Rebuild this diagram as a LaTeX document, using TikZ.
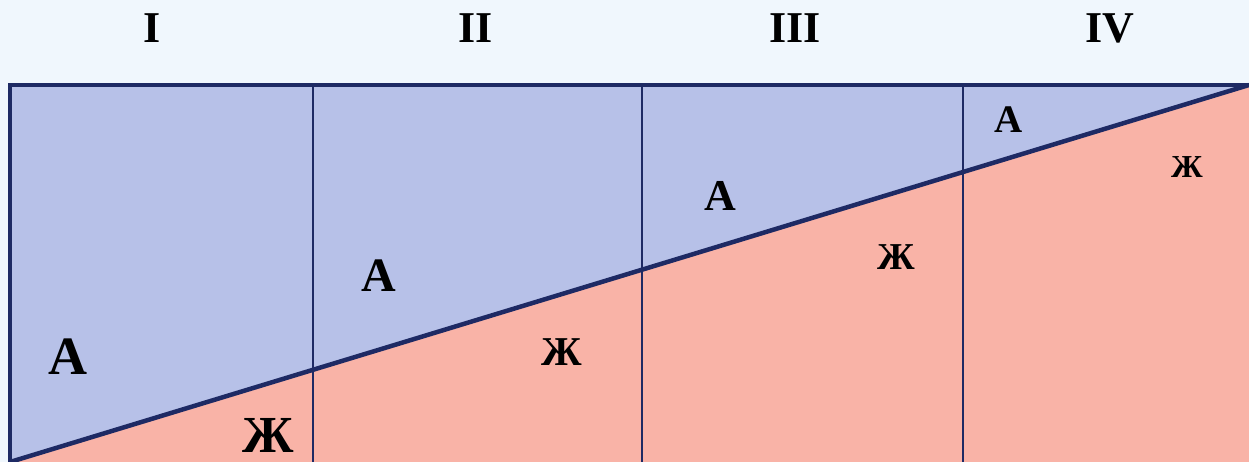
\documentclass[tikz,border=0pt]{standalone}
\usepackage{fontspec}
\setmainfont{Liberation Serif}
\usetikzlibrary{positioning}
\definecolor{bgsky}{RGB}{240,247,253}
\definecolor{adult}{RGB}{183,193,232}
\definecolor{young}{RGB}{249,179,167}
\definecolor{navy}{RGB}{30,42,100}

\begin{document}
\begin{tikzpicture}[
  x=1pt, y=-1pt,
  every node/.style={font=\bfseries, inner sep=0pt},
  numlabel/.style={font=\bfseries\fontsize{44}{44}\selectfont},
  agelabel/.style={anchor=center},
  border/.style={draw=navy, line width=3.5pt},
  divider/.style={draw=navy, line width=1.6pt}
]

\fill[bgsky] (0,0) rectangle (1249,462);
\useasboundingbox (0,0) rectangle (1249,462);

% the two areas split by the diagonal
\fill[adult] (10,85) rectangle (1249,462);
\fill[young] (10,462) -- (1249,85) -- (1249,462) -- cycle;

\draw[divider] (313,85) -- (313,462);
\draw[divider] (642,85) -- (642,462);
\draw[divider] (963,85) -- (963,462);
\draw[border] (10,462) -- (10,85) -- (1249,85);
\draw[border, line width=4.5pt] (10,462) -- (1249,85);

% stage numbers
\node[numlabel] (n1) at (152,28) {I};
\node[numlabel] (n2) at (476,28) {II};
\node[numlabel] (n3) at (795,28) {III};
\node[numlabel] (n4) at (1110,28) {IV};

% letters in each stage
\node[agelabel, font=\bfseries\fontsize{54}{54}\selectfont] (a1) at (68,357) {А};
\node[agelabel, font=\bfseries\fontsize{52}{52}\selectfont] (z1) at (268,435) {Ж};
\node[agelabel, font=\bfseries\fontsize{48}{48}\selectfont] (a2) at (379,276) {А};
\node[agelabel, font=\bfseries\fontsize{41}{41}\selectfont] (z2) at (562,352) {Ж};
\node[agelabel, font=\bfseries\fontsize{44}{44}\selectfont] (a3) at (720,196) {А};
\node[agelabel, font=\bfseries\fontsize{38}{38}\selectfont] (z3) at (896,257) {Ж};
\node[agelabel, font=\bfseries\fontsize{39}{39}\selectfont] (a4) at (1009,120) {А};
\node[agelabel, font=\bfseries\fontsize{32}{32}\selectfont] (z4) at (1187,167) {Ж};

\end{tikzpicture}
\end{document}
